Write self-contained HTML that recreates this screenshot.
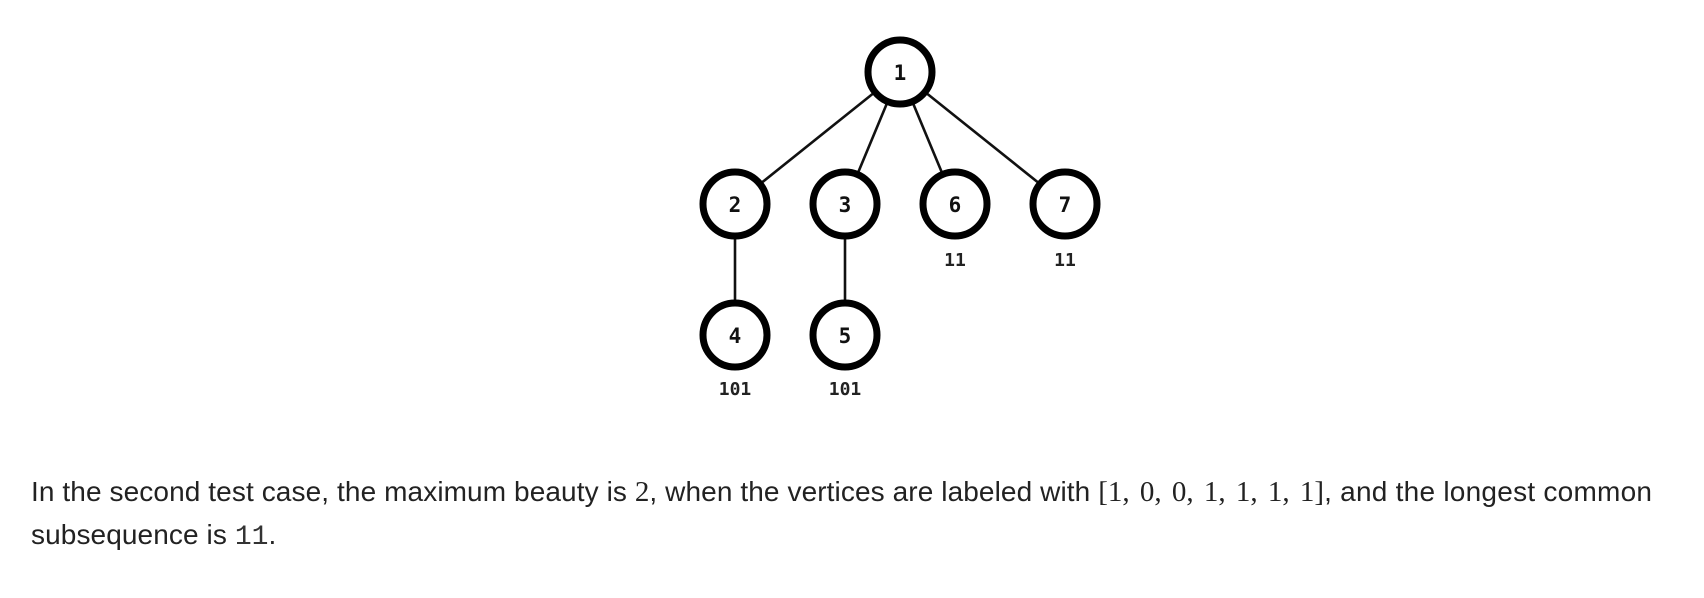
<!DOCTYPE html>
<html>
<head>
<meta charset="utf-8">
<style>
  html,body{margin:0;padding:0;background:#fff;}
  body{width:1704px;height:598px;position:relative;overflow:hidden;}
  .t{position:absolute;left:31px;font-family:"Liberation Sans",Arial,sans-serif;font-size:28px;color:#222;white-space:nowrap;line-height:1;letter-spacing:0.1px;}
  .m{font-family:"Liberation Serif",serif;font-size:29px;letter-spacing:0;}
  .mw{word-spacing:3px;}
  .tt{font-family:"Liberation Mono",monospace;font-size:28px;color:#333;letter-spacing:0;}
  .a{letter-spacing:0.25px;}
</style>
</head>
<body>
<svg width="1704" height="598" style="position:absolute;left:0;top:0" xmlns="http://www.w3.org/2000/svg">
  <g stroke="#111" stroke-width="2.6" fill="none">
    <line x1="900" y1="72" x2="735" y2="204"/>
    <line x1="900" y1="72" x2="845" y2="204"/>
    <line x1="900" y1="72" x2="955" y2="204"/>
    <line x1="900" y1="72" x2="1065" y2="204"/>
    <line x1="735" y1="204" x2="735" y2="335"/>
    <line x1="845" y1="204" x2="845" y2="335"/>
  </g>
  <g stroke="#000" stroke-width="7" fill="#fff">
    <circle cx="900" cy="72" r="32"/>
    <circle cx="735" cy="204" r="32"/>
    <circle cx="845" cy="204" r="32"/>
    <circle cx="955" cy="204" r="32"/>
    <circle cx="1065" cy="204" r="32"/>
    <circle cx="735" cy="335" r="32"/>
    <circle cx="845" cy="335" r="32"/>
  </g>
  <g font-family="DejaVu Sans Mono, monospace" font-weight="bold" font-size="21" fill="#111" text-anchor="middle">
    <text x="900" y="80">1</text>
    <text x="735" y="212">2</text>
    <text x="845" y="212">3</text>
    <text x="955" y="212">6</text>
    <text x="1065" y="212">7</text>
    <text x="735" y="343">4</text>
    <text x="845" y="343">5</text>
  </g>
  <g font-family="DejaVu Sans Mono, monospace" font-weight="bold" font-size="18" fill="#222" text-anchor="middle">
    <text x="955" y="266">11</text>
    <text x="1065" y="266">11</text>
    <text x="735" y="395">101</text>
    <text x="845" y="395">101</text>
  </g>
</svg>
<div class="t" style="top:478px;">In the second test case, the maximum beauty is <span class="m">2</span>, when the vertices are labeled with <span class="m mw">[1, 0, 0, 1, 1, 1, 1]</span><span class="a">, and the longest common</span></div>
<div class="t" style="top:521px;">subsequence is <span class="tt">11</span>.</div>
</body>
</html>
